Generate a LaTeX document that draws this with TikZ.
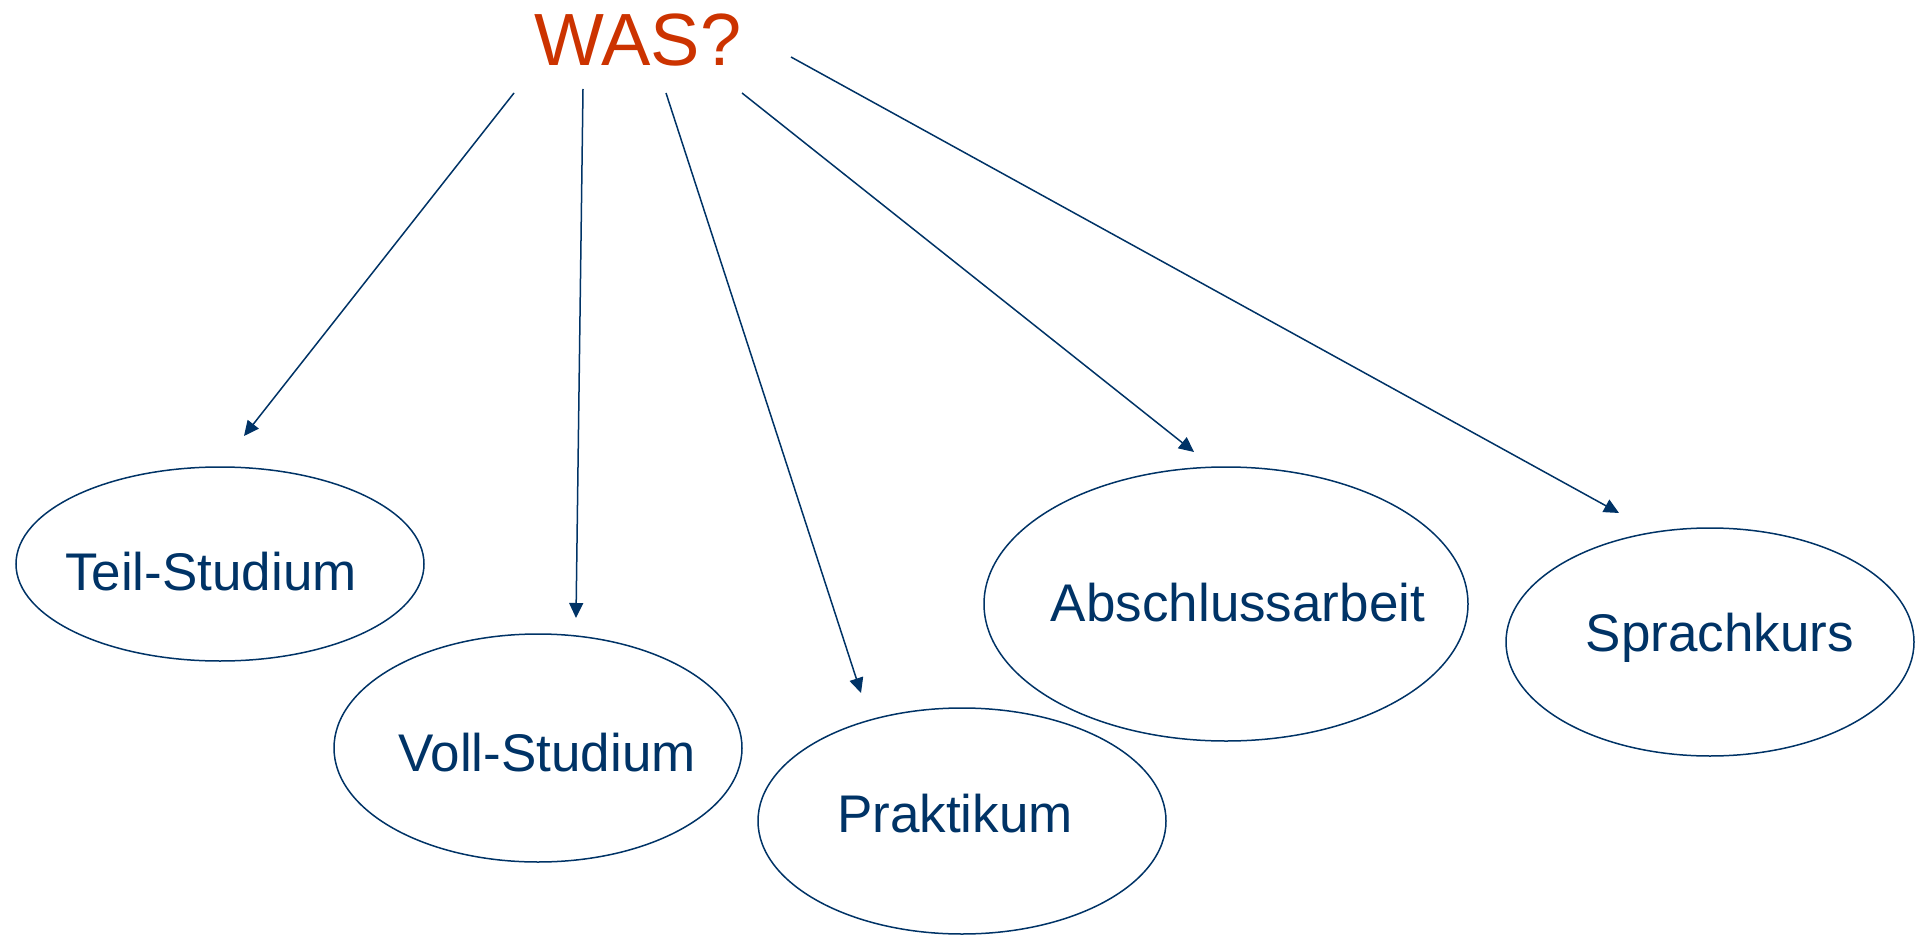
\documentclass[tikz,border=0pt]{standalone}
\usepackage{fontspec}
\setmainfont{Liberation Sans}
\usetikzlibrary{shapes.geometric,arrows.meta}
\definecolor{wasblue}{HTML}{003366}
\definecolor{wasred}{HTML}{CC3300}
\begin{document}
\begin{tikzpicture}[x=0.5pt,y=-0.5pt]
        % Define styles
        \tikzset{
            topic/.style={ellipse, draw=wasblue, line width=0.75pt, inner sep=0pt},
            topictext/.style={anchor=base, inner sep=0pt, text=wasblue, font=\fontsize{26.5}{31}\selectfont},
            pointer/.style={-{Triangle[length=7.5pt,width=7pt]}, draw=wasblue, fill=wasblue, line width=0.75pt}
        }
        \useasboundingbox (0,0) rectangle (1916,936);
        % The question at the top
        \node[text=wasred, font=\fontsize{37}{44}\selectfont] (was) at (638,40) {WAS?};
        % The five answers: ellipses
        \node[topic, minimum width=204pt, minimum height=97pt] (teil) at (220,564) {};
        \node[topic, minimum width=204pt, minimum height=114pt] (voll) at (538,748) {};
        \node[topic, minimum width=204pt, minimum height=113pt] (praktikum) at (962,821) {};
        \node[topic, minimum width=242pt, minimum height=137pt] (abschluss) at (1226,604) {};
        \node[topic, minimum width=204pt, minimum height=114pt] (sprachkurs) at (1710,642) {};
        % ... and their texts
        \node[topictext] (teiltext) at (211,590) {Teil-Studium};
        \node[topictext] (volltext) at (547,771) {Voll-Studium};
        \node[topictext] (praktikumtext) at (955,832) {Praktikum};
        \node[topictext] (abschlusstext) at (1238,621) {Abschlussarbeit};
        \node[topictext] (sprachkurstext) at (1720,651) {Sprachkurs};
        % Arrow ends (they stop short of the ellipses)
        \coordinate (s1) at (514,93);  \coordinate (e1) at (244,436);
        \coordinate (s2) at (583,89);  \coordinate (e2) at (576,618);
        \coordinate (s3) at (666,93);  \coordinate (e3) at (861,693);
        \coordinate (s4) at (742,93);  \coordinate (e4) at (1194,452);
        \coordinate (s5) at (791,57);  \coordinate (e5) at (1619,513);
        % Arrows
        \draw[pointer] (s1) -- (e1);
        \draw[pointer] (s2) -- (e2);
        \draw[pointer] (s3) -- (e3);
        \draw[pointer] (s4) -- (e4);
        \draw[pointer] (s5) -- (e5);
    \end{tikzpicture}
\end{document}
